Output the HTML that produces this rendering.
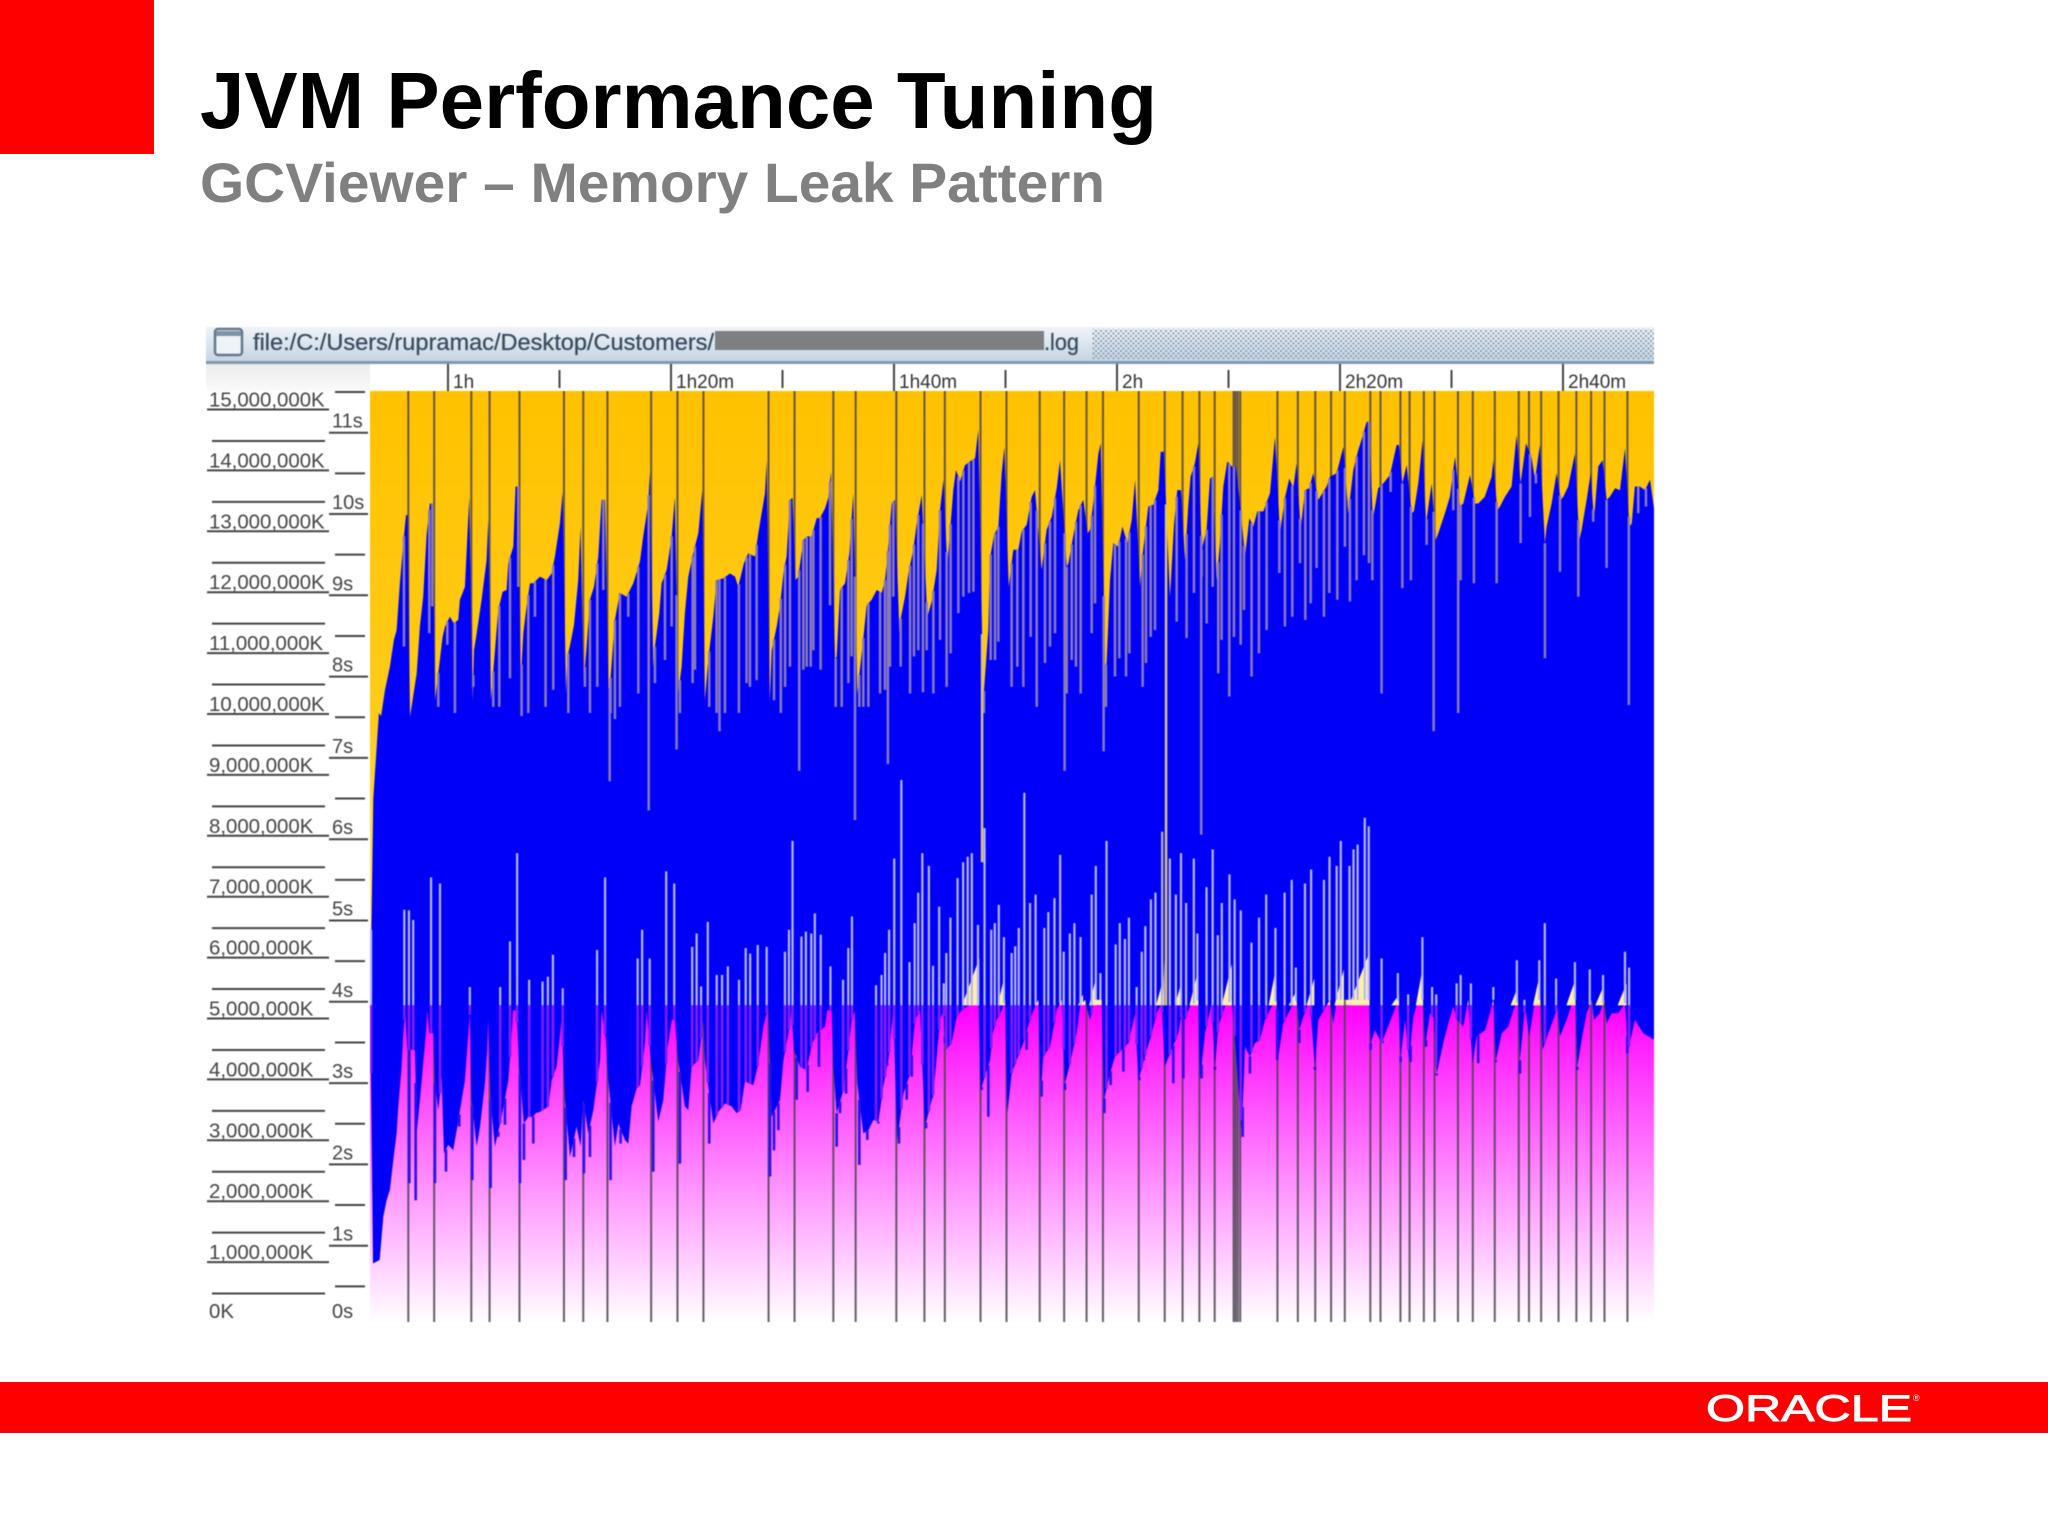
<!DOCTYPE html>
<html lang="en">
<head>
<meta charset="utf-8">
<title>JVM Performance Tuning</title>
<style>
html,body{margin:0;padding:0;background:#fff;}
body{width:2048px;height:1536px;overflow:hidden;position:relative;font-family:"Liberation Sans",sans-serif;}
svg{position:absolute;left:0;top:0;}
#chart-layer{filter:blur(0.55px);}
</style>
</head>
<body>
<svg id="slide-svg" width="2048" height="1536" viewBox="0 0 2048 1536" xmlns="http://www.w3.org/2000/svg">
  <defs>
    <linearGradient id="tenuredFill" x1="0" y1="0" x2="0" y2="1">
      <stop offset="0" stop-color="#ffc200"/>
      <stop offset="0.55" stop-color="#ffcc1a"/>
      <stop offset="0.8" stop-color="#ffdf66"/>
      <stop offset="1" stop-color="#fff3b4"/>
    </linearGradient>
    <linearGradient id="youngFill" x1="0" y1="0" x2="0" y2="1">
      <stop offset="0" stop-color="#ff00ff"/>
      <stop offset="1" stop-color="#ffffff"/>
    </linearGradient>
    <linearGradient id="titlebarFill" x1="0" y1="0" x2="0" y2="1">
      <stop offset="0" stop-color="#f0f4f8"/>
      <stop offset="1" stop-color="#c4d4e4"/>
    </linearGradient>
    <linearGradient id="axisCorner" x1="0" y1="0" x2="0" y2="1">
      <stop offset="0" stop-color="#ececec"/>
      <stop offset="1" stop-color="#fafafa"/>
    </linearGradient>
    <pattern id="dots" width="5" height="5" patternUnits="userSpaceOnUse">
      <rect width="2" height="2" x="0" y="0" fill="#8ea0b4"/>
      <rect width="2" height="2" x="2.5" y="2.5" fill="#8ea0b4"/>
    </pattern>
    <clipPath id="plotClip"><rect x="370" y="391" width="1284" height="931"/></clipPath>
  </defs>

  <rect x="0" y="0" width="154" height="154" fill="#ff0000"/>
  <text x="200" y="128" font-family="'Liberation Sans',sans-serif" font-weight="bold" font-size="80" fill="#000" textLength="957" lengthAdjust="spacingAndGlyphs">JVM Performance Tuning</text>
  <text x="200" y="202" font-family="'Liberation Sans',sans-serif" font-weight="bold" font-size="56" fill="#808080" textLength="905" lengthAdjust="spacingAndGlyphs">GCViewer – Memory Leak Pattern</text>

  <g id="chart-layer">
    <g>
      <rect x="206" y="327" width="1448" height="35" fill="url(#titlebarFill)"/>
      <rect x="206" y="361" width="1448" height="3" fill="#8399ae"/>
      <rect x="1092" y="329" width="562" height="30" fill="url(#dots)"/>
      <rect x="215" y="329" width="27" height="26" rx="3" fill="#eef3f8" stroke="#64788c" stroke-width="2.5"/>
      <rect x="216" y="331" width="25" height="5" fill="#7f93a6"/>
      <text x="253" y="350" font-family="'Liberation Sans',sans-serif" font-size="23" fill="#3c4c60" stroke="#3c4c60" stroke-width="0.3" textLength="461" lengthAdjust="spacingAndGlyphs">file:/C:/Users/rupramac/Desktop/Customers/</text>
      <rect x="715" y="331" width="329" height="19" fill="#7d7f82"/>
      <text x="1044" y="350" font-family="'Liberation Sans',sans-serif" font-size="23" fill="#3c4c60" stroke="#3c4c60" stroke-width="0.3" textLength="35" lengthAdjust="spacingAndGlyphs">.log</text>
    </g>
    <rect x="206" y="364" width="164" height="27" fill="url(#axisCorner)"/>
    <rect x="370" y="364" width="1284" height="27" fill="#ffffff"/>
    <g id="time-axis"></g>
    <g id="memory-axis"></g>
    <g id="pause-axis"></g>
    <g clip-path="url(#plotClip)">
      <rect x="370" y="391" width="1284" height="614" fill="url(#tenuredFill)"/>
      <rect x="370" y="1005" width="1284" height="317" fill="url(#youngFill)"/>
      <g id="full-gc-lines"></g>
      <polygon id="heap-area" fill="#0000fa"></polygon>
      <g id="floor-dips"></g>
      <g id="floor-wedges"></g>
      <g id="upper-gaps"></g>
      <g id="lower-gaps"></g>
    </g>
  </g>

  <rect x="0" y="1382" width="2048" height="51" fill="#ff0000"/>
  <text x="1706" y="1421" font-family="'Liberation Sans',sans-serif" font-size="37" fill="#fff" stroke="#fff" stroke-width="0.9" textLength="206" lengthAdjust="spacingAndGlyphs">ORACLE</text>
  <text x="1913" y="1401" font-family="'Liberation Sans',sans-serif" font-size="9" fill="#fff">®</text>
</svg>

<script>
// Minutes since start of the log
const timeTickValues = [60, 80, 100, 120, 140, 160];
const timeTickLabels = ['1h', '1h20m', '1h40m', '2h', '2h20m', '2h40m'];
const timeAxisEnd = 168.2;
const memoryTickValues = [15, 14, 13, 12, 11, 10, 9, 8, 7, 6, 5, 4, 3, 2, 1, 0];
const memoryTickLabels = ['15,000,000K', '14,000,000K', '13,000,000K', '12,000,000K', '11,000,000K', '10,000,000K', '9,000,000K', '8,000,000K', '7,000,000K', '6,000,000K', '5,000,000K', '4,000,000K', '3,000,000K', '2,000,000K', '1,000,000K', '0K'];
const pauseTickValues = [11, 10, 9, 8, 7, 6, 5, 4, 3, 2, 1, 0];
const pauseTickLabels = ['11s', '10s', '9s', '8s', '7s', '6s', '5s', '4s', '3s', '2s', '1s', '0s'];

// Full GC event times (minutes)
const fullGcTimes = [56.44, 58.76, 62.09, 63.73, 66.41, 70.40, 72.13, 74.30, 78.22, 80.58, 82.91, 88.75, 91.08, 94.56, 96.56, 100.21, 102.73, 104.56, 107.76, 110.09, 113.07, 115.26, 117.27, 118.74, 121.95, 124.28, 125.88, 127.39, 128.76, 130.46, 130.64, 130.83, 131.05, 134.39, 136.22, 137.78, 139.2, 140.43, 142.72, 143.63, 145.42, 146.24, 147.52, 148.48, 150.58, 151.91, 153.88, 156.03, 156.95, 158.04, 159.6, 161.2, 162.52, 163.72, 165.78];

// Upper envelope of used heap: [minutes, million K]
const heapPeaks = [[53.05,5.5],[53.3,8.6],[53.8,10.0],[54.0,9.95],[54.35,10.38],[54.79,10.76],[55.15,11.2],[55.39,11.36],[55.69,12.13],[55.99,12.79],[56.23,13.25],[56.38,13.25],[56.59,9.94],[57.19,10.65],[57.48,11.42],[57.78,11.91],[58.08,12.92],[58.38,13.44],[58.62,13.44],[58.83,10.2],[59.52,11.25],[59.73,11.42],[60.17,11.58],[60.53,11.47],[60.92,11.53],[61.07,11.86],[61.52,12.07],[61.91,13.55],[62.21,10.21],[62.33,11.03],[62.57,11.31],[63.01,11.86],[63.46,12.51],[63.61,13.17],[63.85,10.21],[64.36,11.36],[64.51,11.69],[64.9,11.99],[65.26,12.02],[65.41,12.46],[65.86,12.73],[66.06,13.72],[66.3,13.72],[66.51,10.49],[66.75,11.31],[67.05,11.75],[67.35,12.13],[67.65,12.13],[68.25,12.24],[68.84,12.18],[69.29,12.29],[69.59,12.57],[70.04,13.11],[70.28,13.63],[70.58,10.32],[70.7,10.9],[71.09,11.25],[71.3,11.45],[71.68,12.18],[71.89,13.06],[72.16,10.49],[72.43,11.09],[72.73,11.86],[73.09,12.07],[73.48,12.57],[73.78,13.5],[74.08,13.5],[74.4,10.32],[74.52,10.43],[74.97,11.53],[75.42,11.97],[76.02,11.91],[76.62,12.13],[77.22,12.49],[77.51,12.9],[77.96,13.44],[78.11,13.96],[78.41,10.76],[78.56,11.09],[78.95,11.64],[79.16,12.13],[79.61,12.35],[80.06,12.9],[80.35,13.55],[80.65,10.32],[80.95,10.76],[81.25,11.64],[81.55,12.24],[81.99,12.62],[82.45,12.95],[82.81,13.66],[83.04,10.21],[83.34,10.87],[83.79,11.58],[84.09,12.18],[84.69,12.21],[85.29,12.29],[85.74,12.24],[86.03,12.07],[86.54,12.46],[86.93,12.62],[87.53,12.57],[87.83,12.95],[88.43,13.61],[88.58,14.15],[88.85,10.2],[89.03,11.03],[89.48,11.42],[89.78,11.75],[90.08,12.29],[90.37,12.57],[90.67,13.5],[90.91,13.53],[91.15,12.18],[91.42,12.24],[91.87,12.84],[92.23,12.9],[92.62,12.9],[93.07,13.2],[93.36,13.2],[93.81,13.36],[94.11,13.53],[94.35,13.96],[94.71,10.87],[94.86,10.93],[95.16,12.02],[95.61,12.13],[96.0,12.62],[96.35,13.61],[96.71,10.32],[97.25,11.23],[97.55,11.77],[98.0,11.86],[98.45,12.02],[98.9,11.97],[99.19,12.18],[99.4,12.54],[99.79,13.44],[100.09,13.5],[100.48,11.31],[100.6,11.55],[100.99,11.91],[101.29,12.29],[101.73,12.68],[102.03,13.09],[102.48,13.58],[102.99,11.58],[103.38,11.83],[103.83,12.35],[104.13,13.33],[104.43,13.83],[104.78,12.4],[105.32,13.66],[105.56,13.99],[105.92,13.8],[106.37,14.07],[106.82,14.13],[107.27,14.18],[107.56,14.65],[108.01,10.21],[108.46,11.36],[108.61,12.54],[108.97,12.92],[109.36,13.06],[109.66,13.94],[109.9,14.37],[110.29,12.07],[110.7,12.68],[111.15,12.68],[111.45,12.98],[111.9,13.09],[112.35,13.55],[112.65,13.66],[113.24,12.35],[113.69,13.01],[114.14,13.22],[114.59,13.69],[114.89,14.15],[115.49,12.4],[115.64,12.46],[116.09,12.92],[116.53,13.33],[116.98,13.5],[117.37,12.95],[117.58,13.01],[117.88,13.47],[118.33,14.26],[118.54,14.43],[118.92,10.76],[119.07,10.82],[119.37,12.18],[119.67,12.79],[120.12,12.73],[120.48,13.06],[120.93,12.79],[121.32,13.17],[121.62,13.83],[122.06,12.07],[122.3,12.6],[122.81,13.39],[123.26,13.42],[123.71,13.66],[123.92,14.29],[124.2,14.29],[124.75,11.91],[125.11,13.09],[125.41,13.66],[125.74,13.66],[126.1,12.51],[126.39,13.39],[126.6,13.88],[126.99,14.1],[127.29,14.43],[127.59,12.68],[128.04,13.01],[128.34,13.85],[128.58,13.88],[128.94,12.18],[129.23,12.79],[129.53,13.72],[129.89,14.13],[130.28,14.05],[130.67,14.05],[131.09,13.33],[131.48,12.57],[131.87,13.2],[132.22,13.06],[132.58,13.31],[133.12,13.31],[133.72,13.61],[134.17,14.54],[134.62,12.95],[135.06,13.53],[135.45,13.85],[135.81,13.69],[136.11,14.1],[136.47,13.01],[136.86,13.66],[137.25,13.69],[137.6,13.94],[138.05,13.5],[138.8,13.72],[139.1,13.88],[139.7,13.94],[140.3,14.37],[140.74,13.28],[141.19,13.99],[141.64,14.32],[142.03,14.54],[142.39,14.78],[142.63,14.78],[142.93,13.17],[143.43,13.69],[143.88,13.77],[144.48,13.91],[145.08,14.4],[145.29,14.4],[145.59,13.77],[145.98,14.07],[146.42,13.28],[146.63,13.31],[147.02,13.77],[147.41,14.48],[147.71,13.11],[148.22,13.77],[148.58,12.84],[148.82,12.95],[149.41,13.28],[149.86,13.55],[150.31,14.21],[150.76,13.39],[151.06,13.44],[151.66,13.91],[152.1,13.44],[152.4,13.44],[152.99,13.55],[153.6,13.88],[153.75,14.15],[154.11,13.33],[154.35,13.39],[154.8,13.55],[155.39,13.72],[155.84,14.57],[156.2,13.77],[156.68,14.43],[157.19,14.18],[157.49,13.83],[157.93,14.4],[158.38,12.79],[158.53,13.06],[158.98,13.44],[159.43,13.94],[159.79,13.5],[160.03,13.55],[160.47,13.72],[161.07,14.26],[161.46,12.84],[161.67,13.01],[162.12,13.5],[162.48,13.94],[162.78,13.17],[163.17,14.05],[163.55,14.15],[163.91,13.5],[164.21,13.55],[164.66,13.69],[165.11,13.66],[165.56,14.35],[165.95,13.06],[166.16,13.11],[166.45,13.72],[166.9,13.72],[167.35,13.66],[167.8,13.83],[168.2,13.31]];

// Lower envelope of used heap: [minutes, million K]
const heapFloors = [[53.05,5.0],[53.27,0.96],[53.87,1.02],[54.2,1.73],[54.49,2.0],[54.79,2.17],[55.09,2.66],[55.39,3.1],[55.54,3.54],[55.84,4.19],[55.99,4.74],[56.14,5.12],[56.35,4.47],[57.04,4.47],[57.19,3.1],[57.48,3.65],[57.78,4.25],[58.02,4.74],[58.14,5.12],[58.32,4.74],[58.68,4.74],[58.83,3.92],[59.13,3.48],[59.43,4.03],[59.64,2.77],[60.03,2.91],[60.47,2.82],[60.83,3.21],[61.52,3.97],[61.82,4.74],[61.97,5.07],[62.12,3.65],[62.57,2.88],[62.87,3.21],[63.31,3.92],[63.52,4.47],[63.61,4.96],[63.82,3.65],[64.21,2.88],[64.81,3.37],[65.41,3.97],[65.71,4.74],[65.85,5.12],[66.15,5.12],[66.39,4.19],[66.81,3.26],[67.2,3.37],[67.65,3.37],[67.86,3.43],[68.25,3.45],[69.0,3.54],[69.29,3.97],[69.74,4.19],[70.19,4.96],[70.49,3.65],[70.94,2.71],[71.53,3.21],[71.89,2.88],[72.13,3.65],[72.58,3.1],[73.03,3.48],[73.63,4.3],[73.78,5.12],[74.17,4.63],[74.38,3.97],[74.97,2.88],[75.27,3.26],[75.87,2.99],[76.17,2.93],[76.47,3.54],[76.92,3.84],[77.22,3.89],[77.66,4.58],[77.81,5.12],[78.26,4.19],[78.86,3.29],[79.31,3.65],[79.67,4.47],[80.06,4.96],[80.35,4.96],[80.65,4.3],[81.25,3.54],[81.55,3.48],[81.85,4.19],[82.45,4.3],[82.9,4.96],[83.04,4.3],[83.79,3.26],[84.24,3.45],[84.84,3.59],[85.44,3.54],[85.88,3.43],[86.24,3.48],[86.63,3.95],[87.38,3.89],[87.83,4.25],[88.28,4.85],[88.72,5.18],[89.03,3.37],[89.78,3.65],[90.08,4.3],[90.53,4.74],[90.82,5.12],[91.03,4.47],[91.57,4.19],[92.17,4.14],[92.62,4.55],[93.07,4.74],[93.81,4.85],[94.02,5.12],[94.41,5.12],[94.56,4.19],[94.86,3.43],[95.46,3.81],[95.91,4.47],[96.2,4.96],[96.5,5.12],[96.71,3.92],[97.25,3.1],[97.7,3.15],[98.15,3.32],[98.6,3.29],[99.04,3.87],[99.49,4.3],[99.94,5.12],[100.3,2.99],[100.84,3.75],[101.44,4.08],[101.88,4.96],[102.33,5.12],[102.78,3.21],[103.53,3.75],[104.13,4.96],[104.43,5.12],[104.64,4.47],[105.17,4.58],[105.62,5.01],[106.07,5.12],[106.75,5.2],[107.6,5.2],[107.77,3.81],[108.61,4.3],[108.85,4.74],[109.21,4.96],[109.66,5.12],[109.96,5.29],[110.17,3.43],[110.55,4.08],[111.0,4.3],[111.6,4.58],[112.2,4.96],[112.65,5.18],[112.95,5.29],[113.16,3.75],[113.39,4.36],[113.99,4.52],[114.59,5.12],[115.04,5.29],[115.34,3.92],[115.79,4.25],[116.38,4.74],[116.68,5.18],[117.13,5.29],[117.58,4.96],[118.03,5.29],[118.63,5.29],[118.84,3.65],[119.37,4.08],[119.82,4.36],[120.42,4.47],[121.02,4.58],[121.62,5.07],[121.92,3.97],[122.51,4.36],[123.11,4.74],[123.56,5.07],[124.01,5.23],[124.3,4.2],[124.9,4.47],[125.5,4.74],[125.8,5.07],[126.1,4.96],[126.54,5.18],[127.29,5.29],[127.44,3.97],[127.89,4.74],[128.49,5.23],[128.79,4.19],[129.08,4.85],[129.68,5.18],[130.28,5.29],[130.58,4.63],[131.18,3.1],[131.48,4.52],[131.92,4.36],[132.37,4.58],[132.82,4.63],[133.27,4.96],[133.87,5.18],[134.35,5.29],[134.47,4.36],[134.91,4.9],[135.51,5.12],[136.11,5.29],[136.35,4.8],[136.71,5.01],[137.3,5.29],[137.75,4.19],[138.05,4.96],[139.1,5.29],[139.4,4.9],[139.7,5.29],[140.44,5.29],[142.6,5.29],[142.75,4.58],[143.14,4.79],[143.73,4.58],[144.19,4.79],[144.78,5.07],[145.23,5.29],[145.44,4.36],[145.83,4.96],[146.21,4.3],[146.57,5.01],[147.02,5.29],[147.45,5.29],[147.62,4.52],[148.07,5.07],[148.4,5.0],[148.67,4.08],[149.26,4.58],[149.71,4.9],[150.16,5.18],[150.52,4.96],[151.06,4.85],[151.5,5.29],[151.89,4.25],[152.25,4.69],[153.0,4.79],[153.45,5.07],[153.75,5.29],[153.99,4.3],[154.5,4.74],[155.09,4.85],[155.54,5.12],[155.99,5.29],[156.14,4.3],[156.59,5.18],[156.98,4.69],[157.49,5.29],[158.0,5.29],[158.17,4.47],[158.68,4.74],[159.13,4.96],[159.52,5.18],[159.73,4.69],[160.32,4.96],[160.92,5.29],[161.15,5.29],[161.28,4.19],[161.67,4.63],[162.12,5.07],[162.57,5.29],[162.78,4.96],[163.31,5.07],[163.7,5.29],[163.91,4.9],[164.36,5.07],[164.96,5.07],[165.56,5.23],[165.86,4.47],[166.45,4.96],[167.2,4.74],[168.2,4.63]];

// Short sharp drops below the lower envelope: [minutes, million K]
const floorDips = [[56.53,2.28],[57.1,2.0],[58.83,2.28],[59.82,2.47],[61.01,3.21],[62.18,2.33],[63.82,2.2],[64.51,3.04],[65.11,3.24],[66.45,2.28],[66.81,2.66],[67.65,2.93],[70.55,2.33],[71.3,2.71],[72.19,2.44],[72.73,2.71],[74.58,2.33],[75.48,2.93],[78.41,2.47],[80.8,2.6],[83.43,2.93],[88.88,2.39],[89.24,2.82],[89.63,3.15],[91.27,3.65],[92.26,3.78],[93.27,4.19],[94.86,2.88],[95.16,3.43],[95.7,3.75],[96.89,2.58],[97.61,2.99],[98.6,3.26],[99.4,4.25],[100.45,2.93],[101.14,3.65],[101.59,4.03],[102.87,3.18],[103.44,3.7],[104.57,4.58],[107.86,3.81],[108.46,3.37],[110.17,3.43],[111.9,4.47],[113.24,3.7],[115.34,3.81],[118.87,3.43],[119.43,3.89],[120.57,4.11],[122.0,3.97],[122.42,4.33],[125.05,3.92],[125.95,4.0],[127.59,4.0],[128.79,4.14],[131.27,3.04],[131.92,4.08],[134.37,4.3],[136.35,4.58],[137.75,4.14],[142.75,4.47],[143.82,4.58],[145.44,4.27],[146.33,4.27],[147.71,4.52],[148.67,4.05],[152.4,4.25],[153.99,4.27],[156.14,4.08],[161.28,4.14],[165.77,4.41]];

// Tenured-colour wedges above the boundary: [start minute, end minute, peak in million K]
const floorWedges = [[106.1,107.65,5.97],[109.3,109.9,5.67],[116.5,116.95,5.38],[117.5,118.1,5.64],[123.5,123.95,5.5],[124.1,124.25,5.97],[125.2,125.7,5.53],[126.5,127.3,5.79],[129.4,130.3,5.88],[133.6,134.3,5.85],[135.4,136.1,5.44],[137.0,137.7,5.64],[139.5,140.35,5.79],[140.8,142.65,6.08],[144.6,145.3,5.38],[146.8,147.45,5.85],[155.3,155.95,5.5],[157.3,157.95,5.73],[160.3,161.1,5.62],[162.9,163.6,5.5],[164.9,165.7,5.56]];

// Narrow gaps hanging from the upper envelope: [minutes, end value in million K]
const peakGaps = [[56.05,11.09],[58.32,11.31],[58.59,11.75],[59.13,10.1],[59.94,11.12],[60.62,10.0],[62.27,10.43],[64.06,10.1],[64.6,10.1],[65.56,10.57],[66.3,12.07],[66.6,9.95],[67.2,10.0],[67.8,11.58],[68.75,10.1],[69.44,10.38],[70.79,10.0],[72.28,10.43],[72.73,10.0],[73.39,10.43],[73.93,12.02],[74.5,8.88],[74.58,10.0],[74.97,9.9],[75.42,10.1],[76.17,11.58],[77.07,10.32],[78.0,8.4],[78.56,10.49],[79.46,10.87],[80.06,11.42],[80.5,9.4],[80.8,10.0],[81.94,10.49],[82.15,10.71],[83.43,10.1],[84.09,10.0],[84.35,9.7],[84.84,10.0],[86.09,10.0],[86.78,10.49],[87.08,10.43],[87.68,10.54],[89.24,10.21],[89.85,10.0],[90.23,10.43],[90.67,10.76],[91.5,9.05],[91.87,10.71],[92.17,10.76],[92.53,10.76],[92.77,11.03],[93.42,10.71],[94.26,11.77],[94.77,10.1],[95.31,10.1],[95.91,10.49],[96.2,10.93],[96.5,8.24],[96.89,10.1],[97.25,10.1],[97.7,10.1],[98.75,10.32],[99.19,10.38],[99.45,9.16],[99.64,10.76],[99.94,11.91],[100.6,10.76],[101.44,10.32],[101.79,10.93],[102.18,11.03],[102.6,10.34],[102.93,11.03],[103.53,10.32],[104.13,11.2],[104.72,10.43],[105.08,10.98],[105.77,11.64],[106.22,11.91],[106.73,11.97],[107.12,11.99],[108.07,10.0],[108.67,10.87],[109.06,10.87],[109.36,11.17],[110.55,10.43],[111.06,10.76],[111.6,10.43],[112.26,11.25],[112.8,10.1],[113.54,10.82],[113.99,11.09],[114.44,11.31],[115.3,9.05],[115.49,10.32],[115.94,10.87],[116.32,10.76],[116.74,10.32],[117.73,11.31],[118.03,11.8],[118.8,9.37],[119.01,10.1],[119.82,10.6],[120.21,10.9],[120.81,10.6],[121.11,10.98],[122.3,10.43],[122.6,10.82],[123.02,11.25],[123.41,11.36],[125.35,11.5],[126.24,11.23],[126.9,11.97],[127.55,8.0],[127.59,12.24],[128.04,11.47],[128.58,12.07],[129.08,10.65],[129.38,11.2],[130.07,10.27],[130.49,11.25],[131.09,11.12],[131.39,11.69],[132.07,10.6],[132.73,10.98],[133.42,11.36],[134.56,12.3],[135.06,11.42],[135.72,11.58],[136.41,12.46],[136.89,11.53],[137.37,11.8],[137.9,12.38],[138.56,11.58],[139.04,11.97],[139.76,11.86],[140.44,12.73],[140.89,11.83],[141.49,12.18],[142.15,12.59],[142.6,12.46],[142.9,12.18],[143.73,10.32],[144.54,13.63],[145.59,12.05],[146.36,12.18],[147.77,12.76],[148.4,9.7],[150.16,13.33],[150.6,10.0],[150.82,12.18],[152.01,12.13],[154.05,12.13],[156.2,12.79],[157.04,13.22],[157.57,13.77],[158.38,10.9],[159.73,12.32],[161.37,11.91],[162.71,13.14],[163.91,12.38],[165.9,10.13],[166.75,13.28],[167.44,13.39]];

// Two long gaps that let the tenured colour through: [minutes, end value]
const longGaps = [[107.9,7.55],[124.4,5.2]];

// Narrow gaps rising from the floor of the heap: [minutes, top value in million K]
const floorGaps = [[53.1,6.44],[56.08,6.77],[56.5,6.76],[56.88,6.6],[58.48,7.3],[59.28,7.2],[61.96,5.5],[64.68,5.5],[65.56,6.25],[66.2,7.7],[67.28,5.62],[68.48,5.59],[68.96,5.67],[69.41,6.03],[70.29,5.48],[73.37,6.11],[74.09,7.3],[77.01,5.97],[77.41,6.44],[78.09,5.97],[79.57,7.4],[80.29,7.2],[81.9,6.16],[82.3,6.38],[82.7,5.51],[83.3,6.57],[84.1,5.7],[84.58,5.7],[85.1,5.84],[86.1,5.62],[86.7,6.14],[87.1,6.05],[87.78,6.19],[88.58,6.16],[90.22,6.08],[90.58,6.44],[90.9,7.9],[91.7,6.33],[92.1,6.41],[92.58,6.38],[92.9,6.71],[93.43,6.36],[94.3,5.84],[95.43,5.62],[95.9,6.14],[96.23,6.66],[98.39,5.53],[98.88,5.7],[99.2,6.06],[99.56,6.44],[100.02,7.61],[100.66,8.9],[101.39,5.91],[101.85,6.55],[102.17,7.05],[102.54,7.7],[103.13,7.49],[103.5,5.85],[104.05,6.82],[104.46,5.56],[104.69,6.06],[105.06,6.64],[105.7,7.29],[106.2,7.55],[106.61,7.64],[106.98,7.7],[107.53,6.52],[108.12,8.11],[108.72,6.44],[109.04,6.55],[109.4,6.85],[109.86,6.32],[110.55,6.06],[110.87,6.17],[111.19,6.47],[111.69,8.69],[112.2,6.88],[112.7,7.02],[113.48,6.47],[113.84,6.73],[114.39,6.96],[114.9,7.67],[115.22,6.08],[115.77,6.38],[116.18,6.55],[116.73,6.32],[117.73,7.02],[118.1,7.49],[118.51,5.73],[119.06,7.9],[119.88,6.2],[120.25,6.55],[120.71,6.29],[121.07,6.64],[121.76,5.5],[122.22,6.08],[122.54,6.5],[123.04,6.94],[123.45,7.05],[124.05,8.05],[124.74,7.61],[125.28,7.02],[125.74,7.7],[126.2,6.88],[126.89,7.61],[127.21,6.38],[128.03,7.14],[128.58,7.76],[129.04,6.35],[129.4,6.88],[130.09,7.35],[130.55,6.94],[131.1,6.76],[132.06,6.23],[132.74,6.64],[133.38,7.02],[134.21,6.47],[135.03,7.05],[135.67,7.26],[136.04,5.82],[136.86,7.2],[137.41,7.43],[138.56,7.26],[139.06,7.64],[139.7,7.49],[140.07,7.9],[140.85,7.49],[141.21,7.76],[141.58,7.84],[142.22,8.28],[142.58,8.14],[143.73,5.97],[145.19,5.73],[146.11,5.38],[147.39,6.32],[148.26,5.5],[148.63,5.38],[150.46,5.56],[150.82,5.7],[151.74,5.56],[153.75,5.5],[155.86,5.94],[156.54,5.29],[157.87,5.94],[158.37,6.55],[159.38,5.64],[161.07,5.91],[162.4,5.79],[163.59,5.7],[165.56,6.08],[165.93,5.82]];

const SVG_NS = 'http://www.w3.org/2000/svg';
const YOUNG_BOUNDARY = 5.2;

function xTime(t) { return 448 + (t - 60) * 11.15; }
function yMem(v) { return 1322 - v * 60.9; }
function yPause(s) { return 1327 - s * 81.3; }

function valueAt(series, t) {
  for (let i = 1; i < series.length; i++) {
    if (t <= series[i][0]) {
      const a = series[i - 1];
      const b = series[i];
      const f = (t - a[0]) / (b[0] - a[0] || 1);
      return a[1] + (b[1] - a[1]) * f;
    }
  }
  return series[series.length - 1][1];
}

function makeLine(parent, x1, y1, x2, y2, color, width) {
  const el = document.createElementNS(SVG_NS, 'line');
  el.setAttribute('x1', x1);
  el.setAttribute('y1', y1);
  el.setAttribute('x2', x2);
  el.setAttribute('y2', y2);
  el.setAttribute('stroke', color);
  el.setAttribute('stroke-width', width);
  parent.appendChild(el);
  return el;
}

function makeText(parent, x, y, content, size, color) {
  const el = document.createElementNS(SVG_NS, 'text');
  el.setAttribute('x', x);
  el.setAttribute('y', y);
  el.setAttribute('font-family', "'Liberation Sans',sans-serif");
  el.setAttribute('font-size', size);
  el.setAttribute('fill', color);
  el.textContent = content;
  parent.appendChild(el);
  return el;
}

// Time axis
const timeAxis = document.getElementById('time-axis');
timeTickValues.forEach(function (t, i) {
  const tick = makeLine(timeAxis, xTime(t), 364, xTime(t), 391, '#444', 2);
  
  
  if (t + 10 < timeAxisEnd) {
    const minor = makeLine(timeAxis, xTime(t + 10), 370, xTime(t + 10), 388, '#444', 2);
    
    
  }
  const label = makeText(timeAxis, xTime(t) + 5, 388, timeTickLabels[i], 19, '#333');
  
  
});

// Memory axis
const memoryAxis = document.getElementById('memory-axis');
memoryTickValues.forEach(function (v, i) {
  const label = makeText(memoryAxis, 209, yMem(v) - (v === 0 ? 4 : 2), memoryTickLabels[i], 20.4, '#444');
  
  
  if (v > 0) {
    const under = makeLine(memoryAxis, 207, yMem(v) + 1, 329, yMem(v) + 1, '#444', 2);
    
    
  }
  if (v < 15) {
    const half = makeLine(memoryAxis, 212, yMem(v + 0.5) + 2, 325, yMem(v + 0.5) + 2, '#444', 2);
    
    
  }
});

// Pause axis
const pauseAxis = document.getElementById('pause-axis');
pauseTickValues.forEach(function (s, i) {
  const labelY = s === 0 ? yMem(0) - 4 : yPause(s) - 5;
  const label = makeText(pauseAxis, 332, labelY, pauseTickLabels[i], 20, '#444');
  
  
  if (s > 0) {
    const under = makeLine(pauseAxis, 329, yPause(s), 368, yPause(s), '#444', 2);
    
    
  }
  const half = makeLine(pauseAxis, 335, yPause(s + 0.5), 365, yPause(s + 0.5), '#444', 2);
  
  
});

// Full GC lines
const gcGroup = document.getElementById('full-gc-lines');
fullGcTimes.forEach(function (t) {
  const el = makeLine(gcGroup, xTime(t), 391, xTime(t), 1322, '#4a4250', 2);
  el.setAttribute('stroke-opacity', '0.85');
  
  
});

// Used heap area
const heapPoints = [];
heapPeaks.forEach(function (p) { heapPoints.push(xTime(p[0]).toFixed(1) + ',' + yMem(p[1]).toFixed(1)); });
heapFloors.slice().reverse().forEach(function (p) { heapPoints.push(xTime(p[0]).toFixed(1) + ',' + yMem(p[1]).toFixed(1)); });
document.getElementById('heap-area').setAttribute('points', heapPoints.join(' '));

// Sharp drops from the lower envelope
const dipGroup = document.getElementById('floor-dips');
floorDips.forEach(function (d) {
  const floor = valueAt(heapFloors, d[0]);
  const el = makeLine(dipGroup, xTime(d[0]), yMem(floor), xTime(d[0]), yMem(d[1]), '#2a10f0', 2.6);
  
  
});

// Wedges above the boundary
const wedgeGroup = document.getElementById('floor-wedges');
floorWedges.forEach(function (w) {
  const el = document.createElementNS(SVG_NS, 'polygon');
  const pts = [xTime(w[0]) + ',' + yMem(YOUNG_BOUNDARY), xTime(w[1]) + ',' + yMem(w[2]), xTime(w[1]) + ',' + yMem(YOUNG_BOUNDARY)];
  el.setAttribute('points', pts.join(' '));
  el.setAttribute('fill', '#fff0a8');
  
  
  wedgeGroup.appendChild(el);
});

// Gaps from the upper envelope
const upperGroup = document.getElementById('upper-gaps');
peakGaps.forEach(function (g) {
  const el = makeLine(upperGroup, xTime(g[0]), yMem(valueAt(heapPeaks, g[0])), xTime(g[0]), yMem(g[1]), '#8a7ab6', 2.5);
  
  
});
longGaps.forEach(function (g) {
  const el = makeLine(upperGroup, xTime(g[0]), yMem(valueAt(heapPeaks, g[0])), xTime(g[0]), yMem(g[1]), '#e0c46a', 2.5);
  
  
});

// Gaps from the lower envelope
const lowerGroup = document.getElementById('lower-gaps');
floorGaps.forEach(function (g) {
  const floor = valueAt(heapFloors, g[0]);
  const start = Math.max(floor, YOUNG_BOUNDARY);
  const upper = makeLine(lowerGroup, xTime(g[0]), yMem(start), xTime(g[0]), yMem(g[1]), '#b6b6f2', 2.2);
  
  
  if (floor < YOUNG_BOUNDARY) {
    const lower = makeLine(lowerGroup, xTime(g[0]), yMem(YOUNG_BOUNDARY), xTime(g[0]), yMem(floor), '#7f1cff', 2.6);
    
    
  }
});
</script>
</body>
</html>
